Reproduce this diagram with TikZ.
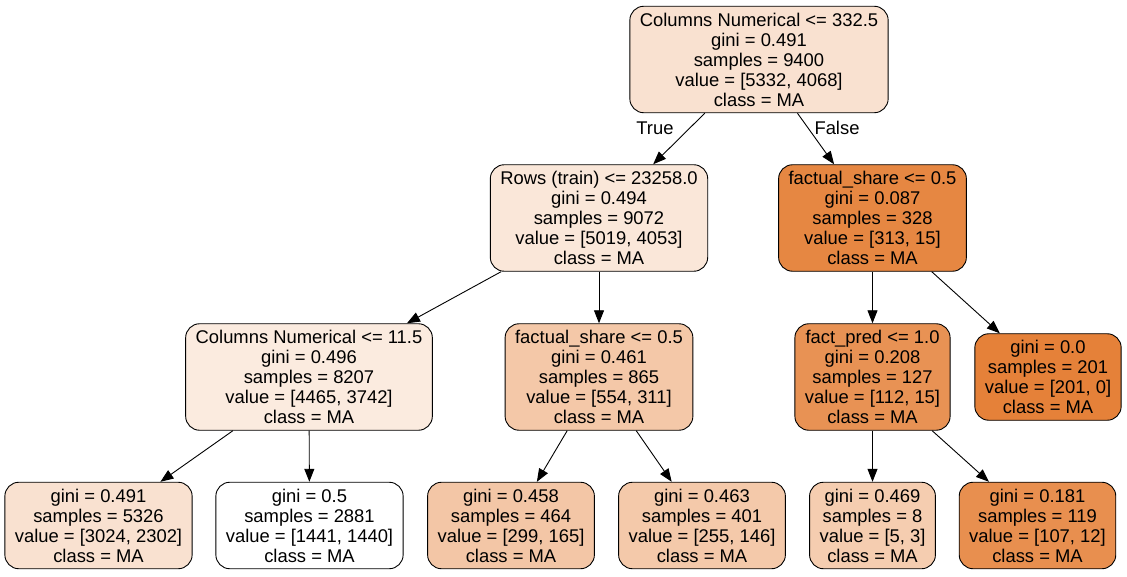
\documentclass[tikz,border=0pt]{standalone}
\usepackage{fontspec}
\setmainfont{Liberation Sans}
\usetikzlibrary{arrows.meta}

\definecolor{fillRoot}{HTML}{F9E1D0}
\definecolor{fillRows}{HTML}{FAE7D9}
\definecolor{fillFactR}{HTML}{E68742}
\definecolor{fillColsL}{HTML}{FBEBDF}
\definecolor{fillFactM}{HTML}{F4C8A8}
\definecolor{fillPred}{HTML}{E89254}
\definecolor{fillPure}{HTML}{E58139}
\definecolor{fillLeafA}{HTML}{F9E1D0}
\definecolor{fillLeafB}{HTML}{FFFFFF}
\definecolor{fillLeafC}{HTML}{F3C6A6}
\definecolor{fillLeafD}{HTML}{F4C9AA}
\definecolor{fillLeafE}{HTML}{F5CDB0}
\definecolor{fillLeafF}{HTML}{E88F4F}

\tikzset{
  treenode/.style={draw, rounded corners=14pt, align=center, inner xsep=10pt,
    inner ysep=6.5pt, line width=0.9pt, font=\fontsize{18.4}{20}\selectfont},
  treeedge/.style={line width=0.9pt, -{Triangle[length=13pt,width=10pt]}},
  edgelabel/.style={font=\fontsize{18.4}{20}\selectfont, inner sep=0pt}
}

\begin{document}
\begin{tikzpicture}[x=1pt, y=-1pt]
    \useasboundingbox (0,0) rectangle (1127,577);

    % Root split
    \node[treenode, fill=fillRoot] (root) at (759,59.5)
      {Columns Numerical <= 332.5\\gini = 0.491\\samples = 9400\\value = [5332, 4068]\\class = MA};

    % Second level
    \node[treenode, fill=fillRows] (rows) at (599,218)
      {Rows (train) <= 23258.0\\gini = 0.494\\samples = 9072\\value = [5019, 4053]\\class = MA};
    \node[treenode, fill=fillFactR] (factR) at (872.5,218)
      {factual\_share <= 0.5\\gini = 0.087\\samples = 328\\value = [313, 15]\\class = MA};

    % Third level
    \node[treenode, fill=fillColsL] (colsL) at (309,377)
      {Columns Numerical <= 11.5\\gini = 0.496\\samples = 8207\\value = [4465, 3742]\\class = MA};
    \node[treenode, fill=fillFactM] (factM) at (599,377)
      {factual\_share <= 0.5\\gini = 0.461\\samples = 865\\value = [554, 311]\\class = MA};
    \node[treenode, fill=fillPred] (pred) at (872.5,377)
      {fact\_pred <= 1.0\\gini = 0.208\\samples = 127\\value = [112, 15]\\class = MA};
    \node[treenode, fill=fillPure] (pure) at (1048,377)
      {gini = 0.0\\samples = 201\\value = [201, 0]\\class = MA};

    % Leaves
    \node[treenode, fill=fillLeafA] (leafA) at (98.5,525.5)
      {gini = 0.491\\samples = 5326\\value = [3024, 2302]\\class = MA};
    \node[treenode, fill=fillLeafB] (leafB) at (309.5,525.5)
      {gini = 0.5\\samples = 2881\\value = [1441, 1440]\\class = MA};
    \node[treenode, fill=fillLeafC] (leafC) at (511,525.5)
      {gini = 0.458\\samples = 464\\value = [299, 165]\\class = MA};
    \node[treenode, fill=fillLeafD] (leafD) at (702,525.5)
      {gini = 0.463\\samples = 401\\value = [255, 146]\\class = MA};
    \node[treenode, fill=fillLeafE] (leafE) at (872.5,525.5)
      {gini = 0.469\\samples = 8\\value = [5, 3]\\class = MA};
    \node[treenode, fill=fillLeafF] (leafF) at (1037.5,525.5)
      {gini = 0.181\\samples = 119\\value = [107, 12]\\class = MA};

    % Edges
    \draw[treeedge] (root) -- (rows);
    \draw[treeedge] (root) -- (factR);
    \draw[treeedge] (rows) -- (colsL);
    \draw[treeedge] (rows) -- (factM);
    \draw[treeedge] (factR) -- (pred);
    \draw[treeedge] (factR) -- (pure);
    \draw[treeedge] (colsL) -- (leafA);
    \draw[treeedge] (colsL) -- (leafB);
    \draw[treeedge] (factM) -- (leafC);
    \draw[treeedge] (factM) -- (leafD);
    \draw[treeedge] (pred) -- (leafE);
    \draw[treeedge] (pred) -- (leafF);

    % Edge labels
    \node[edgelabel] (lblTrue) at (655,128) {True};
    \node[edgelabel] (lblFalse) at (837,128) {False};

\end{tikzpicture}
\end{document}
